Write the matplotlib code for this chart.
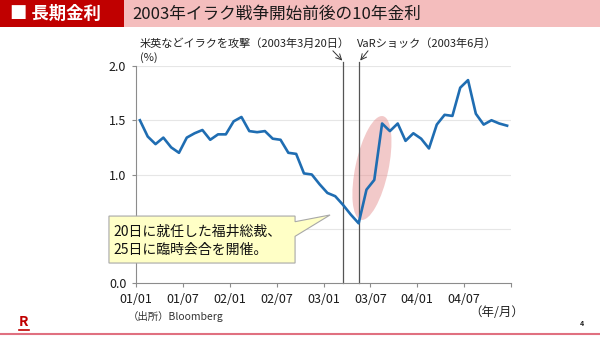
import matplotlib
matplotlib.use("Agg")
import matplotlib.pyplot as plt
from matplotlib.patches import Rectangle, Polygon, Ellipse
from matplotlib.lines import Line2D
from matplotlib.transforms import ScaledTranslation

plt.rcParams['font.family'] = ['Noto Sans CJK JP', 'DejaVu Sans']

# monthly 10-year JGB yield, Jan 2001 - Dec 2004 (%)
yields = [1.50, 1.35, 1.28, 1.34, 1.25, 1.20, 1.34, 1.38, 1.41, 1.32, 1.37, 1.37,
          1.49, 1.53, 1.40, 1.39, 1.40, 1.33, 1.32, 1.20, 1.19, 1.01, 1.00, 0.91,
          0.83, 0.80, 0.72, 0.63, 0.55, 0.86, 0.95, 1.47, 1.40, 1.47, 1.31, 1.38,
          1.33, 1.24, 1.46, 1.55, 1.54, 1.80, 1.87, 1.56, 1.46, 1.50, 1.47, 1.45]
tick_months = [0, 6, 12, 18, 24, 30, 36, 42, 48]
tick_labels = ['01/01', '01/07', '02/01', '02/07', '03/01', '03/07', '04/01', '04/07', '']
y_ticks = [0.0, 0.5, 1.0, 1.5, 2.0]
event_months = [26.5, 28.55]   # 2003/3/20, 2003/6
event_labels = ['米英などイラクを攻撃（2003年3月20日）', 'VaRショック（2003年6月）']

fig = plt.figure(figsize=(6.0, 3.37), dpi=100)
fig.patch.set_facecolor('white')

# header
fig.patches.append(Rectangle((0, 1 - 27/337), 124/600, 27/337, transform=fig.transFigure,
                             facecolor='#C00000', edgecolor='none', zorder=0))
fig.patches.append(Rectangle((124/600, 1 - 27/337), 1 - 124/600, 27/337, transform=fig.transFigure,
                             facecolor='#F4BDBD', edgecolor='none', zorder=0))
fig.text(10/600, 1 - 14/337, '■ 長期金利', color='white', fontsize=12.5, fontweight='bold',
         va='center', ha='left')
fig.text(132/600, 1 - 14/337, '2003年イラク戦争開始前後の10年金利', color='#1a1a1a', fontsize=12,
         va='center', ha='left')

ax = fig.add_axes([136/600, 1 - 283/337, 375/600, 217/337])
x = [i + 0.5 for i in range(len(yields))]

ax.set_xlim(0, 48)
ax.set_ylim(0, 2.0)
ax.set_yticks(y_ticks)
ax.set_yticklabels([f'{v:.1f}' for v in y_ticks])
ax.set_xticks(tick_months)
ax.set_xticklabels(tick_labels)
for v in y_ticks[1:]:
    ax.axhline(v, color='#E6E6E6', lw=0.8, zorder=0)
for s in ['top', 'right']:
    ax.spines[s].set_visible(False)
for s in ['left', 'bottom']:
    ax.spines[s].set_color('#8C8C8C')
    ax.spines[s].set_linewidth(0.8)
ax.tick_params(axis='both', colors='#8C8C8C', labelcolor='#1a1a1a', length=3, width=0.8,
               labelsize=9)
ax.tick_params(axis='x', pad=4)
ax.tick_params(axis='y', pad=4)

# highlight ellipse (sized in pixels, placed in data coordinates)
ell = Ellipse((0, 0), 0.33, 1.06, angle=-12,
              transform=fig.dpi_scale_trans + ScaledTranslation(30.2, 1.06, ax.transData),
              facecolor=(0.9, 0.58, 0.58), alpha=0.5, edgecolor='none', zorder=1)
ax.add_patch(ell)

ax.plot(x, yields, color='#1F6DB2', lw=1.9, zorder=3, solid_joinstyle='round')

# event lines
for m in event_months:
    ax.plot([m, m], [0, 2.04], color='#555555', lw=0.9, clip_on=False, zorder=2)

ax.text(27.3, 2.205, event_labels[0], fontsize=8, ha='right', va='center', color='#222222')
ax.text(28.3, 2.205, event_labels[1], fontsize=8, ha='left', va='center', color='#222222')
ax.annotate('', xy=(26.4, 2.05), xytext=(25.2, 2.14), annotation_clip=False,
            arrowprops=dict(arrowstyle='->', color='#333333', lw=0.7, shrinkA=0, shrinkB=0))
ax.annotate('', xy=(28.7, 2.05), xytext=(29.7, 2.14), annotation_clip=False,
            arrowprops=dict(arrowstyle='->', color='#333333', lw=0.7, shrinkA=0, shrinkB=0))

ax.text(0.5, 2.08, '(%)', fontsize=8, ha='left', va='center', color='#222222')

# callout
bx0, bx1, by0, by1 = -3.46, 20.36, 0.184, 0.617
tip = (24.84, 0.627)
verts = [(bx0, by0), (bx0, by1), (bx1, by1), (bx1, 0.565), tip, (bx1, 0.43), (bx1, by0)]
ax.add_patch(Polygon(verts, closed=True, facecolor='#FFFFC6', edgecolor='#A8A8A8', lw=0.8,
                     clip_on=False, zorder=6))
ax.text(-2.95, 0.47, '20日に就任した福井総裁、', fontsize=10, ha='left', va='center',
        color='#111111', zorder=7, clip_on=False)
ax.text(-2.95, 0.30, '25日に臨時会合を開催。', fontsize=10, ha='left', va='center',
        color='#111111', zorder=7, clip_on=False)

# footer
fig.text(497/600, 1 - 312/337, '（年/月）', fontsize=9, ha='center', va='center', color='#222222')
fig.text(128/600, 1 - 316/337, '（出所）Bloomberg', fontsize=7.5, ha='left', va='center',
         color='#333333')
fig.text(24/600, 1 - 322/337, 'R', fontsize=10, fontweight='bold', ha='center', va='center',
         color='#C00000')
fig.add_artist(Line2D([19/600, 29/600], [1 - 330/337, 1 - 330/337], color='#C00000', lw=1.2,
                      transform=fig.transFigure))
fig.add_artist(Line2D([0, 1], [1 - 333.5/337, 1 - 333.5/337], color='#E07080', lw=1.5,
                      transform=fig.transFigure))
fig.text(582/600, 1 - 323/337, '4', fontsize=5, fontweight='bold', ha='center', va='center',
         color='#222222')

fig.savefig('out.png', dpi=100)
